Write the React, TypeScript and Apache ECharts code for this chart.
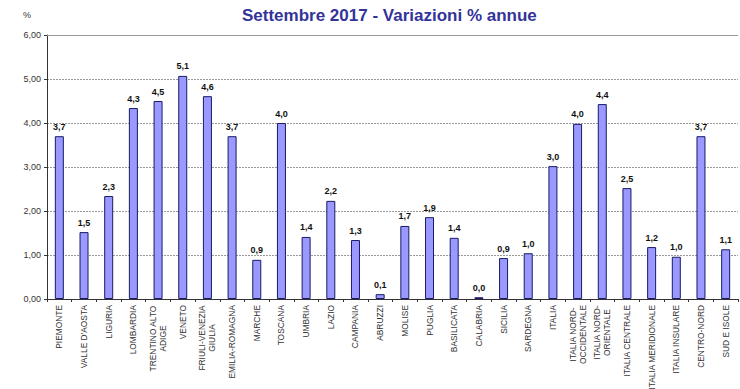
import React, { useEffect, useRef } from "react";
import * as echarts from "echarts";

const categories: string[] = [
  "PIEMONTE",
  "VALLE D'AOSTA",
  "LIGURIA",
  "LOMBARDIA",
  "TRENTINO ALTO\nADIGE",
  "VENETO",
  "FRIULI-VENEZIA\nGIULIA",
  "EMILIA-ROMAGNA",
  "MARCHE",
  "TOSCANA",
  "UMBRIA",
  "LAZIO",
  "CAMPANIA",
  "ABRUZZI",
  "MOLISE",
  "PUGLIA",
  "BASILICATA",
  "CALABRIA",
  "SICILIA",
  "SARDEGNA",
  "ITALIA",
  "ITALIA NORD-\nOCCIDENTALE",
  "ITALIA NORD-\nORIENTALE",
  "ITALIA CENTRALE",
  "ITALIA MERIDIONALE",
  "ITALIA INSULARE",
  "CENTRO-NORD",
  "SUD E ISOLE",
];

const values: number[] = [
  3.7, 1.52, 2.34, 4.34, 4.5, 5.07, 4.61, 3.7, 0.89, 4.0, 1.41, 2.23, 1.34,
  0.11, 1.66, 1.86, 1.39, 0.04, 0.93, 1.04, 3.02, 3.98, 4.43, 2.52, 1.18,
  0.96, 3.7, 1.13,
];

const yTicks: number[] = [0, 1, 2, 3, 4, 5, 6];

const titleText = "Settembre 2017 - Variazioni % annue";
const FONT = "'Liberation Sans', Arial, sans-serif";
const XFS = 8.4;

export default function App() {
  const ref = useRef<HTMLDivElement>(null);
  useEffect(() => {
    if (!ref.current) return;
    const chart = echarts.init(ref.current, undefined, { renderer: "svg" });

    const canvas = document.createElement("canvas");
    const ctx = canvas.getContext("2d")!;
    ctx.font = XFS + "px 'Liberation Sans', Arial";
    const rich: Record<string, any> = {};
    const labelMap: Record<string, string> = {};
    categories.forEach((c, i) => {
      if (c.includes("\n")) {
        const lines = c.split("\n");
        const w = Math.ceil(Math.max(...lines.map((l) => ctx.measureText(l).width)));
        const key = "m" + i;
        rich[key] = { width: w, align: "center", fontSize: XFS, fontFamily: FONT, color: "#333", lineHeight: 10 };
        labelMap[c] = lines.map((l) => `{${key}|${l}}`).join("\n");
      }
    });

    chart.setOption({
      animation: false,
      backgroundColor: "#ffffff",
      title: {
        text: titleText,
        left: 237,
        top: 2,
        textStyle: { fontFamily: FONT, fontSize: 17, fontWeight: "bold", color: "#333399" },
      },
      graphic: [
        {
          type: "text",
          left: 23,
          top: 10,
          style: { text: "%", fontFamily: FONT, fontSize: 9, fill: "#333" },
        },
      ],
      grid: { left: 47, right: 2, top: 35, bottom: 90, containLabel: false, outerBoundsMode: "none" },
      xAxis: {
        type: "category",
        data: categories,
        axisLine: { lineStyle: { color: "#333", width: 1 } },
        axisTick: { show: true, length: 3, lineStyle: { color: "#333" } },
        axisLabel: {
          interval: 0,
          rotate: 90,
          margin: 6,
          fontSize: XFS,
          fontFamily: FONT,
          color: "#333",
          lineHeight: 10,
          rich,
          formatter: (v: string) => labelMap[v] || v,
        },
      },
      yAxis: {
        type: "value",
        min: 0,
        max: 6,
        interval: 1,
        axisLine: { show: true, lineStyle: { color: "#333" } },
        axisTick: { show: true, length: 3, lineStyle: { color: "#333" } },
        axisLabel: {
          fontSize: 9,
          fontFamily: FONT,
          color: "#333",
          margin: 6,
          formatter: (v: number) => (yTicks.includes(v) ? v.toFixed(2).replace(".", ",") : ""),
        },
        splitLine: { show: true, lineStyle: { color: "#999", type: [2, 1], width: 1 } },
      },
      series: [
        {
          type: "bar",
          data: values,
          barWidth: 9,
          itemStyle: { color: "#9999ff", borderColor: "#1a1a66", borderWidth: 1 },
          label: {
            show: true,
            position: "top",
            distance: 5,
            fontSize: 9,
            fontWeight: "bold",
            fontFamily: FONT,
            color: "#111",
            formatter: (p: any) => (p.value as number).toFixed(1).replace(".", ","),
          },
          markLine: {
            silent: true,
            symbol: "none",
            label: { show: false },
            lineStyle: { color: "#999", type: "solid", width: 1 },
            data: [{ yAxis: 6 }],
          },
        },
      ],
    });
    return () => chart.dispose();
  }, []);
  return <div ref={ref} style={{ width: 740, height: 389, position: "absolute", left: 0, top: 0 }} />;
}
